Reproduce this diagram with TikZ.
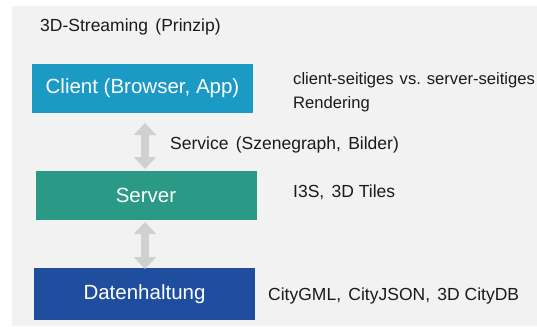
\documentclass[tikz,border=0pt]{standalone}
\usepackage{fontspec}
\setmainfont{Liberation Sans}
\usetikzlibrary{arrows.meta}
\definecolor{panel}{HTML}{F2F2F2}
\definecolor{clientblue}{HTML}{1B9AC6}
\definecolor{servergreen}{HTML}{2A9A86}
\definecolor{datablue}{HTML}{1F4E9E}
\definecolor{arrowgray}{HTML}{D0D0D0}
\definecolor{txt}{HTML}{1A1A1A}
\newcommand{\gap}{\hspace{0.42em}}
\tikzset{
  layer/.style={fill=#1, draw=none, minimum width=221pt, minimum height=49pt,
    text=white, font=\fontsize{20.5}{24}\selectfont, inner sep=0pt},
  note/.style={anchor=west, text=txt, font=\fontsize{17.5}{23}\selectfont, inner sep=0pt, align=left},
  link/.style={draw=arrowgray, line width=8pt,
    {Triangle[width=22pt,length=12pt]}-{Triangle[width=22pt,length=12pt]}}
}
\begin{document}
\begin{tikzpicture}[x=1pt,y=-1pt]
  \useasboundingbox (0,0) rectangle (537,326);
  \fill[white] (0,0) rectangle (537,326);
  \fill[panel] (12,6) rectangle (537,326);

  \node[note] (title) at (40,27) {3D-Streaming\gap(Prinzip)};

  \node[layer=clientblue] (client) at (142.5,88.5) {Client (Browser, App)};
  \node[layer=servergreen] (server) at (146,195) {Server};
  \node[layer=datablue, minimum height=52pt] (data) at (144.5,294) {Datenhaltung};

  \node[note, font=\fontsize{16.6}{24}\selectfont] (render) at (293,92.5)
    {client-seitiges\hspace{0.36em}vs.\hspace{0.36em}server-seitiges\\Rendering};
  \node[note] (service) at (170,145) {Service\gap(Szenegraph,\gap Bilder)};
  \node[note] (formats) at (293,192) {I3S,\gap 3D Tiles};
  \node[note] (storage) at (268,296) {CityGML,\gap CityJSON,\gap 3D CityDB};

  \coordinate (a1) at (145,123);
  \coordinate (a2) at (145,169);
  \coordinate (b1) at (145,222);
  \coordinate (b2) at (145,269);
  \draw[link] (a1) -- (a2);
  \draw[link] (b1) -- (b2);
\end{tikzpicture}
\end{document}
